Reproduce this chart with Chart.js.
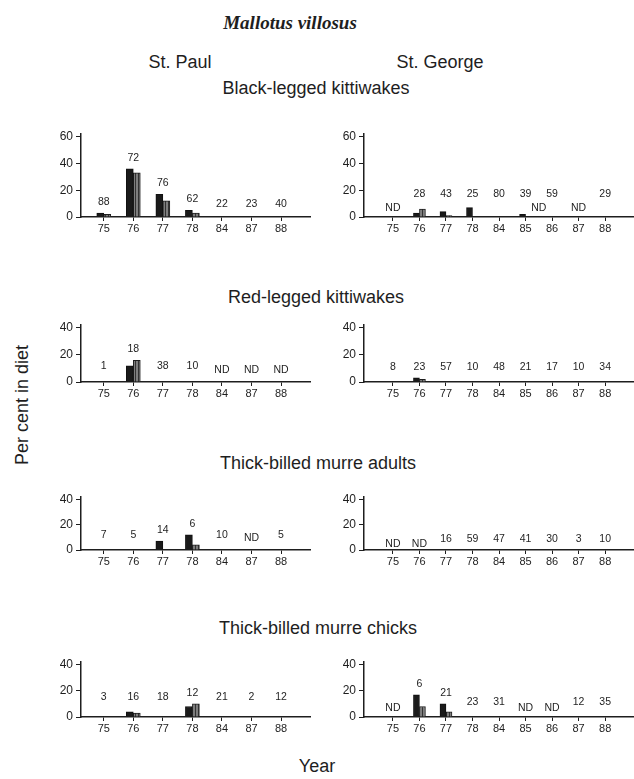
<!DOCTYPE html>
<html>
<head>
<meta charset="utf-8">
<script src="https://cdn.jsdelivr.net/npm/chart.js@4.4.0/dist/chart.umd.min.js"></script>
<style>
  body { margin: 0; background: #fff; }
  #page { position: relative; width: 634px; height: 779px; overflow: hidden;
          font-family: "Liberation Sans", Arial, sans-serif; color: #1e1e1e; }
  .t { position: absolute; white-space: nowrap; transform: translate(-50%, -50%); font-size: 18px; }
  .species { font-family: "Liberation Serif", serif; font-style: italic; font-weight: bold; font-size: 19px; }
  .ylab { transform: translate(-50%, -50%) rotate(-90deg); }
  canvas { position: absolute; }
</style>
</head>
<body>
<div id="page">
  <div class="t species" style="left:290px; top:23px;">Mallotus villosus</div>
  <div class="t" style="left:180px; top:62px;">St. Paul</div>
  <div class="t" style="left:440px; top:62px;">St. George</div>
  <div class="t" style="left:316px; top:88px;">Black-legged kittiwakes</div>
  <div class="t" style="left:316px; top:297px;">Red-legged kittiwakes</div>
  <div class="t" style="left:318px; top:463px;">Thick-billed murre adults</div>
  <div class="t" style="left:318px; top:628px;">Thick-billed murre chicks</div>
  <div class="t ylab" style="left:22px; top:405px;">Per cent in diet</div>
  <div class="t" style="left:317px; top:766px;">Year</div>
</div>
<script>
// years sampled on each island
const yearsPaul = ["75", "76", "77", "78", "84", "87", "88"];
const yearsGeorge = ["75", "76", "77", "78", "84", "85", "86", "87", "88"];

// Black-legged kittiwakes
const blkPaulSolid = [3, 36, 17, 5, 0, 0, 0];
const blkPaulHatch = [2, 33, 12, 3, 0, 0, 0];
const blkPaulN = ["88", "72", "76", "62", "22", "23", "40"];
const blkGeorgeSolid = [0, 3, 4, 7, 0, 2, 0, 0, 0];
const blkGeorgeHatch = [0, 6, 1, 0, 0, 0, 0, 0, 0];
const blkGeorgeN = ["ND", "28", "43", "25", "80", "39", "59", "ND", "29"];
const blkGeorgeExtra = [[5.5, "ND"]];

// Red-legged kittiwakes
const rlkPaulSolid = [0, 12, 0, 0, 0, 0, 0];
const rlkPaulHatch = [0, 16, 0, 0, 0, 0, 0];
const rlkPaulN = ["1", "18", "38", "10", "ND", "ND", "ND"];
const rlkGeorgeSolid = [0, 3, 0, 0, 0, 0, 0, 0, 0];
const rlkGeorgeHatch = [0, 2, 0, 0, 0, 0, 0, 0, 0];
const rlkGeorgeN = ["8", "23", "57", "10", "48", "21", "17", "10", "34"];

// Thick-billed murre adults
const tbaPaulSolid = [0, 0, 7, 12, 0, 0, 0];
const tbaPaulHatch = [0, 0, 0, 4, 0, 0, 0];
const tbaPaulN = ["7", "5", "14", "6", "10", "ND", "5"];
const tbaGeorgeSolid = [0, 0, 0, 0, 0, 0, 0, 0, 0];
const tbaGeorgeHatch = [0, 0, 0, 0, 0, 0, 0, 0, 0];
const tbaGeorgeN = ["ND", "ND", "16", "59", "47", "41", "30", "3", "10"];

// Thick-billed murre chicks
const tbcPaulSolid = [0, 4, 0, 8, 0, 0, 0];
const tbcPaulHatch = [0, 3, 0, 10, 0, 0, 0];
const tbcPaulN = ["3", "16", "18", "12", "21", "2", "12"];
const tbcGeorgeSolid = [0, 17, 10, 0, 0, 0, 0, 0, 0];
const tbcGeorgeHatch = [0, 8, 4, 0, 0, 0, 0, 0, 0];
const tbcGeorgeN = ["ND", "6", "21", "23", "31", "ND", "ND", "12", "35"];

const yTicksTop = [0, 20, 40, 60];
const yTicks = [0, 20, 40];

// layout of the 4 x 2 grid (pixels)
const rows = [
  { y0: 217, ppu: 1.333, ymax: 62, ticks: yTicksTop },
  { y0: 382, ppu: 1.35, ymax: 42, ticks: yTicks },
  { y0: 549, ppu: 1.25, ymax: 42, ticks: yTicks },
  { y0: 717, ppu: 1.32, ymax: 42, ticks: yTicks }
];
const cols = [
  { left: 0, width: 317, axisX: 81, axisEnd: 310, min: -0.77, max: 6.98, bar: 7 },
  { left: 317, width: 317, axisX: 364, axisEnd: 633, min: -1.09, max: 9.05, bar: 6 }
];

const panels = [
  { row: 0, col: 0, years: yearsPaul, solid: blkPaulSolid, hatch: blkPaulHatch, n: blkPaulN, numLift: 13, ndLift: 9 },
  { row: 0, col: 1, years: yearsGeorge, solid: blkGeorgeSolid, hatch: blkGeorgeHatch, n: blkGeorgeN, extra: blkGeorgeExtra, numLift: 23, ndLift: 9 },
  { row: 1, col: 0, years: yearsPaul, solid: rlkPaulSolid, hatch: rlkPaulHatch, n: rlkPaulN, numLift: 16, ndLift: 12 },
  { row: 1, col: 1, years: yearsGeorge, solid: rlkGeorgeSolid, hatch: rlkGeorgeHatch, n: rlkGeorgeN, numLift: 15, ndLift: 10 },
  { row: 2, col: 0, years: yearsPaul, solid: tbaPaulSolid, hatch: tbaPaulHatch, n: tbaPaulN, numLift: 15, ndLift: 12 },
  { row: 2, col: 1, years: yearsGeorge, solid: tbaGeorgeSolid, hatch: tbaGeorgeHatch, n: tbaGeorgeN, numLift: 11, ndLift: 6 },
  { row: 3, col: 0, years: yearsPaul, solid: tbcPaulSolid, hatch: tbcPaulHatch, n: tbcPaulN, numLift: 20, ndLift: 10 },
  { row: 3, col: 1, years: yearsGeorge, solid: tbcGeorgeSolid, hatch: tbcGeorgeHatch, n: tbcGeorgeN, numLift: 15, ndLift: 9 }
];

// hatched fill for the second bar of each pair
const makeHatch = () => {
  const c = document.createElement("canvas");
  c.width = 3; c.height = 3;
  const g = c.getContext("2d");
  g.fillStyle = "#7e7e7e";
  g.fillRect(0, 0, 3, 3);
  g.fillStyle = "#333";
  g.fillRect(0, 0, 1, 3);
  return g.createPattern(c, "repeat");
};

// sample sizes / ND written above each year
const sampleLabels = {
  id: "sampleLabels",
  afterDatasetsDraw(chart, args, opts) {
    const { ctx } = chart;
    const xs = chart.scales.x, ys = chart.scales.y;
    const base = ys.getPixelForValue(0);
    ctx.save();
    ctx.font = "10.5px 'Liberation Sans', Arial, sans-serif";
    ctx.fillStyle = "#1e1e1e";
    ctx.textAlign = "center";
    ctx.textBaseline = "middle";
    opts.n.forEach((txt, i) => {
      const x = xs.getPixelForValue(i);
      let y;
      if (txt === "ND") {
        y = base - opts.ndLift;
      } else {
        const top = ys.getPixelForValue(Math.max(opts.solid[i], opts.hatch[i]));
        y = Math.min(base - opts.numLift, top - 11);
      }
      ctx.fillText(txt, x, y);
    });
    (opts.extra || []).forEach(([pos, txt]) => {
      ctx.fillText(txt, xs.getPixelForValue(pos), base - opts.ndLift);
    });
    ctx.restore();
  }
};

const page = document.getElementById("page");
const hatch = makeHatch();
const padTop = 12, xAxisH = 24;

panels.forEach(p => {
  const r = rows[p.row], c = cols[p.col];
  const areaH = r.ymax * r.ppu;
  const top = r.y0 - areaH - padTop;
  const height = Math.round(padTop + areaH + xAxisH);

  const canvas = document.createElement("canvas");
  canvas.width = c.width;
  canvas.height = height;
  canvas.style.left = c.left + "px";
  canvas.style.top = Math.round(top) + "px";
  page.appendChild(canvas);

  new Chart(canvas, {
    type: "bar",
    data: {
      datasets: [
        {
          data: p.solid.map((v, i) => ({ x: i, y: v })),
          backgroundColor: "#1a1a1a",
          borderColor: "#111",
          borderWidth: 1
        },
        {
          data: p.hatch.map((v, i) => ({ x: i, y: v })),
          backgroundColor: hatch,
          borderColor: "#1e1e1e",
          borderWidth: 1
        }
      ]
    },
    options: {
      responsive: false,
      animation: false,
      barThickness: c.bar,
      layout: { padding: { left: 0, right: c.left + c.width - c.axisEnd, top: padTop, bottom: 0 } },
      plugins: {
        legend: { display: false },
        tooltip: { enabled: false },
        sampleLabels: { n: p.n, solid: p.solid, hatch: p.hatch, extra: p.extra, numLift: p.numLift, ndLift: p.ndLift }
      },
      scales: {
        x: {
          type: "linear",
          offset: false,
          min: c.min,
          max: c.max,
          afterBuildTicks: s => { s.ticks = p.years.map((_, i) => ({ value: i })); },
          afterFit: s => { s.height = xAxisH; },
          border: { display: true, color: "#1e1e1e", width: 1.5 },
          grid: { offset: false, drawOnChartArea: false, drawTicks: true, tickLength: 4, color: "#1e1e1e", lineWidth: 1 },
          ticks: {
            callback: v => p.years[v],
            color: "#1e1e1e",
            padding: 1,
            maxRotation: 0,
            autoSkip: false,
            font: { family: "'Liberation Sans', Arial, sans-serif", size: 11 }
          }
        },
        y: {
          min: 0,
          max: r.ymax,
          afterBuildTicks: s => { s.ticks = r.ticks.map(v => ({ value: v })); },
          afterFit: s => { s.width = c.axisX - c.left; },
          border: { display: true, color: "#1e1e1e", width: 1.5 },
          grid: { drawOnChartArea: false, drawTicks: true, tickLength: 5, color: "#1e1e1e", lineWidth: 1 },
          ticks: {
            color: "#1e1e1e",
            padding: 3,
            font: { family: "'Liberation Sans', Arial, sans-serif", size: 12 }
          }
        }
      }
    },
    plugins: [sampleLabels]
  });
});
</script>
</body>
</html>
